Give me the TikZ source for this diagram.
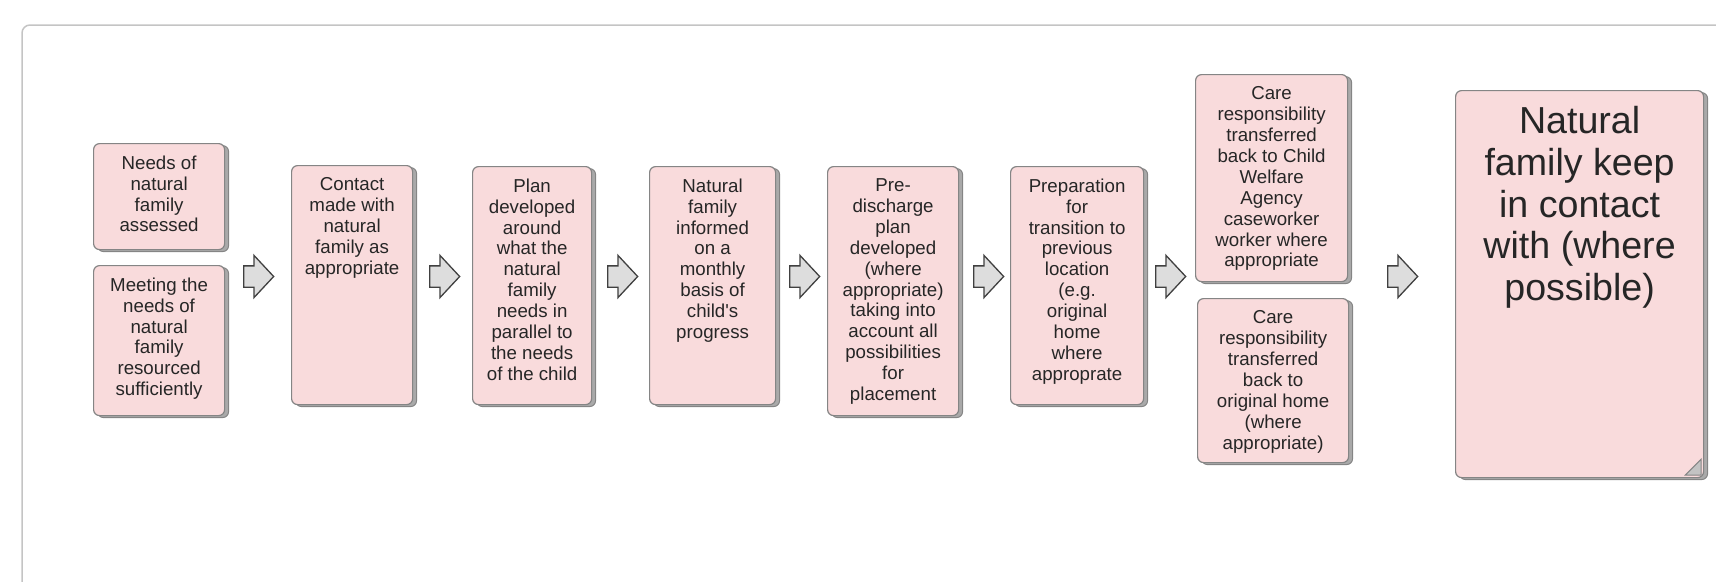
\documentclass[tikz,border=0pt]{standalone}
\usepackage{fontspec}
\setmainfont{Liberation Sans}
\usetikzlibrary{shapes,arrows,positioning,shadows}

\definecolor{cardpink}{HTML}{F9DBDC}
\definecolor{cardline}{HTML}{858585}
\definecolor{cardshade}{HTML}{A9A9A9}
\definecolor{arrowgrey}{HTML}{DDDDDD}
\definecolor{arrowline}{HTML}{404040}
\definecolor{framegrey}{HTML}{C4C4C4}
\definecolor{inkgrey}{HTML}{262626}

\begin{document}
\begin{tikzpicture}[x=1pt,y=-1pt,
	card/.style={draw=cardline, line width=1.2pt, fill=cardpink, rounded corners=6pt, inner sep=0pt, anchor=north west,
		copy shadow={shadow xshift=4pt, shadow yshift=-2pt, fill=cardshade, draw=cardline, line width=1pt}},
	cardtext/.style={anchor=north, align=center, inner xsep=0pt, inner ysep=12.5pt, text=inkgrey, font=\fontsize{18.7}{20.9}\selectfont},
	flow/.style={single arrow, draw=arrowline, fill=arrowgrey, line width=1.3pt,
		minimum height=30pt, minimum width=41pt, single arrow head extend=10.5pt, single arrow tip angle=94, inner xsep=0pt, inner ysep=10pt, anchor=tail}]

\useasboundingbox (0,0) rectangle (1716,581);
\begin{scope}
	\clip (0,0) rectangle (1716,581);
	\draw[framegrey, line width=1.5pt, rounded corners=8pt] (22,25) rectangle (1760,640); % the frame runs on past the right and bottom edges
\end{scope}

\node[card, minimum width=131pt, minimum height=106pt] (needs) at (93,143) {};
\node[cardtext] at (needs.north) {Needs of\\natural\\family\\assessed};
\node[card, minimum width=131pt, minimum height=150pt] (meeting) at (93,265) {};
\node[cardtext] at (meeting.north) {Meeting the\\needs of\\natural\\family\\resourced\\sufficiently};

\node[card, minimum width=121pt, minimum height=239pt] (contact) at (291,165) {};
\node[cardtext] at (contact.north) {Contact\\made with\\natural\\family as\\appropriate};

\node[card, minimum width=119pt, minimum height=238pt] (plan) at (472,166) {};
\node[cardtext] at (plan.north) {Plan\\developed\\around\\what the\\natural\\family\\needs in\\parallel to\\the needs\\of the child};

\node[card, minimum width=126pt, minimum height=238pt] (informed) at (649,166) {};
\node[cardtext] at (informed.north) {Natural\\family\\informed\\on a\\monthly\\basis of\\child\textquotesingle s\\progress};

\node[card, minimum width=131pt, minimum height=249pt] (predischarge) at (827,166) {};
\node[cardtext] at (predischarge.north) {Pre-\\discharge\\plan\\developed\\(where\\appropriate)\\taking into\\account all\\possibilities\\for\\placement};

\node[card, minimum width=133pt, minimum height=238pt] (preparation) at (1010,166) {};
\node[cardtext] at (preparation.north) {Preparation\\for\\transition to\\previous\\location\\(e.g.\\original\\home\\where\\approprate};

\node[card, minimum width=152pt, minimum height=207pt] (welfare) at (1195,74) {};
\node[cardtext] at (welfare.north) {Care\\responsibility\\transferred\\back to Child\\Welfare\\Agency\\caseworker\\worker where\\appropriate};
\node[card, minimum width=151pt, minimum height=164pt] (home) at (1197,298) {};
\node[cardtext] at (home.north) {Care\\responsibility\\transferred\\back to\\original home\\(where\\appropriate)};

\node[card, minimum width=248pt, minimum height=387pt] (keep) at (1455,90) {};
\node[cardtext, inner ysep=16pt, font=\fontsize{37.6}{41.8}\selectfont] at (keep.north) {Natural\\family keep\\in contact\\with (where\\possible)};
\draw[draw=cardline, fill=cardshade!70!white, line width=1pt] (keep.south east) ++(-3,-3) -- ++(0,-16) -- ++(-16,16) -- cycle; % folded corner

% block arrows between the steps
\foreach \x [count=\i] in {243,429,607,789,973,1155,1387}
	\node[flow] (arrow\i) at (\x,276.5) {};

\end{tikzpicture}
\end{document}
